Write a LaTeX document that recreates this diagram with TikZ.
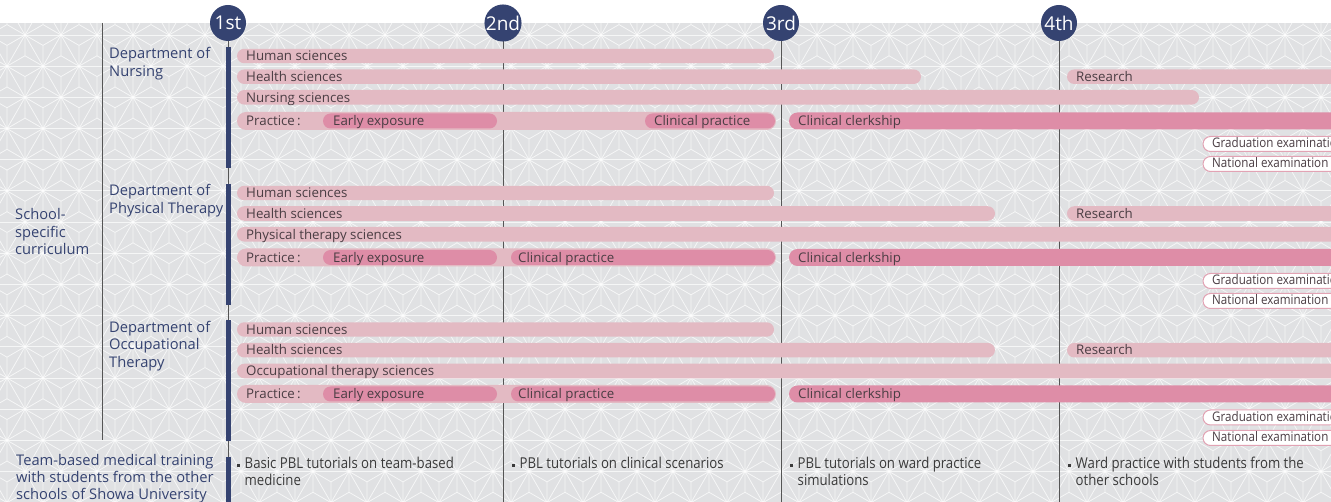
\documentclass[tikz,border=0pt]{standalone}
\usepackage{fontspec}
\setmainfont{Open Sans}
\newfontfamily\condfont[FakeStretch=0.88]{Open Sans}
\definecolor{bgc}{HTML}{E0E1E3}
\definecolor{lpink}{HTML}{E3BAC3}
\definecolor{dpink}{HTML}{DE8DA7}
\definecolor{navyc}{HTML}{354371}
\definecolor{bartextc}{HTML}{4A3D43}
\definecolor{bottomc}{HTML}{3A3A3A}
\definecolor{vlinec}{HTML}{555555}
\definecolor{exborder}{HTML}{E2A3B4}
\newcommand\pillbar[5]{\fill[#5] ({#1},{#3-#4}) [rounded corners=#4pt] rectangle ({#2},{#3+#4});}
\newcommand\exampill[1]{\filldraw[fill=white,draw=exborder,line width=1pt] (1203,{#1-7.5}) [rounded corners=7.5pt] rectangle (1345,{#1+7.5});}
\begin{document}
\begin{tikzpicture}[x=1pt,y=-1pt,
  pat/.style={draw=white,draw opacity=0.7,line width=0.8pt},
  bartxt/.style={anchor=west,inner sep=0pt,font=\fontsize{13.3}{15}\selectfont,text=bartextc,text height=9pt,text depth=2.5pt,yshift=-1.5pt},
  extxt/.style={anchor=west,inner sep=0pt,font=\condfont\fontsize{13.2}{15}\selectfont,text=bartextc,text height=8.5pt,text depth=2.5pt,yshift=-1pt},
  deptxt/.style={anchor=north west,inner sep=0pt,align=left,font=\fontsize{14.7}{17.3}\selectfont,text=navyc},
  bottxt/.style={anchor=north west,inner sep=0pt,align=left,font=\condfont\fontsize{15}{17}\selectfont,text=bottomc},
  yearc/.style={circle,fill=navyc,minimum size=36pt,inner sep=0pt,text=white,font=\fontsize{19}{19}\selectfont},
  vline/.style={draw=vlinec,line width=1pt},
  navyseg/.style={draw=navyc,line width=5pt}]
\useasboundingbox (0,0) rectangle (1331,502);
\begin{scope}
\clip (0,23) rectangle (1331,502);
\fill[bgc] (0,23) rectangle (1331,502);
\foreach \r in {0,...,16} { \draw[pat] (0,{3.8231+31.1769*\r}) -- (1331,{3.8231+31.1769*\r}); }
\foreach \i in {-10,...,38} { \draw[pat] ({25+36*\i-20.207},0) -- ({25+36*\i+280.01},520); }
\foreach \i in {-1,...,46} { \draw[pat] ({25+36*\i+20.207},0) -- ({25+36*\i-280.01},520); }
\draw[pat] \foreach \r in {0,...,16} { \foreach \i in {-1,...,37} {
  ({25+36*\i+18*mod(\r+1,2)-18},{3.8231+31.1769*\r-10.392}) -- ++(36,20.785)
  ({25+36*\i+18*mod(\r+1,2)+18},{3.8231+31.1769*\r-10.392}) -- ++(-36,20.785)
  ({25+36*\i+18*mod(\r+1,2)},{3.8231+31.1769*\r-20.785}) -- ++(0,41.57) } };
% vertical lines
\coordinate (t0) at (102,23); \coordinate (b0) at (102,440);
\draw[vline] (t0) -- (b0);
\coordinate (b1) at (228,502); \coordinate (b2) at (503,502); \coordinate (b3) at (781,502); \coordinate (b4) at (1059,502);
\coordinate (t1) at (228,41); \coordinate (t2) at (503,41); \coordinate (t3) at (781,41); \coordinate (t4) at (1059,41);
\draw[vline] (t1) -- (b1); \draw[vline] (t2) -- (b2); \draw[vline] (t3) -- (b3); \draw[vline] (t4) -- (b4);
\coordinate (s1a) at (228,47); \coordinate (s1b) at (228,168);
\coordinate (s2a) at (228,184); \coordinate (s2b) at (228,305);
\coordinate (s3a) at (228,320); \coordinate (s3b) at (228,441);
\coordinate (s4a) at (228,457); \coordinate (s4b) at (228,505);
\draw[navyseg] (s1a) -- (s1b); \draw[navyseg] (s2a) -- (s2b); \draw[navyseg] (s3a) -- (s3b); \draw[navyseg] (s4a) -- (s4b);
% ===== Nursing =====
\pillbar{237}{774}{56}{7.2}{lpink}
\pillbar{237}{921}{76.7}{7.3}{lpink}
\pillbar{1067}{1350}{76.7}{7.3}{lpink}
\pillbar{237}{1199}{97.3}{7.3}{lpink}
\pillbar{237}{776}{121}{9}{lpink}
\pillbar{323}{497}{121}{7.5}{dpink}
\pillbar{645}{775}{121}{7.5}{dpink}
\pillbar{789}{1350}{121}{8.5}{dpink}
\exampill{144}
\exampill{164}
\node[bartxt] (nh) at (246,56) {Human sciences};
\node[bartxt] (nhe) at (246,76.7) {Health sciences};
\node[bartxt] (nr) at (1076,76.7) {Research};
\node[bartxt] (nn) at (246,97.3) {Nursing sciences};
\node[bartxt] (np) at (246,121) {Practice\,:};
\node[bartxt] (ne) at (333,121) {Early exposure};
\node[bartxt] (nc) at (654,121) {Clinical practice};
\node[bartxt] (nk) at (798,121) {Clinical clerkship};
\node[extxt] (ng) at (1212,144) {Graduation examination};
\node[extxt] (nx) at (1212,164) {National examination};
% ===== Physical therapy =====
\pillbar{237}{774}{193}{7.2}{lpink}
\pillbar{237}{995}{213.5}{7.3}{lpink}
\pillbar{1067}{1350}{213.5}{7.3}{lpink}
\pillbar{237}{1350}{234.3}{7.3}{lpink}
\pillbar{237}{776}{257.5}{9}{lpink}
\pillbar{323}{497}{257.5}{7.5}{dpink}
\pillbar{511}{775}{257.5}{7.5}{dpink}
\pillbar{789}{1350}{257.5}{8.5}{dpink}
\exampill{281}
\exampill{301}
\node[bartxt] (ph) at (246,193) {Human sciences};
\node[bartxt] (phe) at (246,213.5) {Health sciences};
\node[bartxt] (pr) at (1076,213.5) {Research};
\node[bartxt] (pn) at (246,234.3) {Physical therapy sciences};
\node[bartxt] (pp) at (246,257.5) {Practice\,:};
\node[bartxt] (pe) at (333,257.5) {Early exposure};
\node[bartxt] (pc) at (518,257.5) {Clinical practice};
\node[bartxt] (pk) at (798,257.5) {Clinical clerkship};
\node[extxt] (pg) at (1212,281) {Graduation examination};
\node[extxt] (px) at (1212,301) {National examination};
% ===== Occupational therapy =====
\pillbar{237}{774}{329.5}{7.2}{lpink}
\pillbar{237}{995}{350.2}{7.3}{lpink}
\pillbar{1067}{1350}{350.2}{7.3}{lpink}
\pillbar{237}{1350}{371}{7.3}{lpink}
\pillbar{237}{776}{394}{9}{lpink}
\pillbar{323}{497}{394}{7.5}{dpink}
\pillbar{511}{775}{394}{7.5}{dpink}
\pillbar{789}{1350}{394}{8.5}{dpink}
\exampill{417.5}
\exampill{438}
\node[bartxt] (oh) at (246,329.5) {Human sciences};
\node[bartxt] (ohe) at (246,350.2) {Health sciences};
\node[bartxt] (or) at (1076,350.2) {Research};
\node[bartxt] (on) at (246,371) {Occupational therapy sciences};
\node[bartxt] (op) at (246,394) {Practice\,:};
\node[bartxt] (oe) at (333,394) {Early exposure};
\node[bartxt] (oc) at (518,394) {Clinical practice};
\node[bartxt] (ok) at (798,394) {Clinical clerkship};
\node[extxt] (og) at (1212,417.5) {Graduation examination};
\node[extxt] (ox) at (1212,438) {National examination};
% ===== bottom row =====
\fill[bottomc] (237,464) rectangle (240,467);
\fill[bottomc] (512,464) rectangle (515,467);
\fill[bottomc] (790,464) rectangle (793,467);
\fill[bottomc] (1068,464) rectangle (1071,467);
\node[bottxt] (w1) at (244.5,457) {Basic PBL tutorials on team-based\\medicine};
\node[bottxt] (w2) at (519.5,457) {PBL tutorials on clinical scenarios};
\node[bottxt] (w3) at (797.5,457) {PBL tutorials on ward practice\\simulations};
\node[bottxt] (w4) at (1075.5,457) {Ward practice with students from the\\other schools};
\end{scope}
% ===== labels =====
\node[deptxt] (dn) at (109,47.5) {Department of\\Nursing};
\node[deptxt] (dp) at (109,184.5) {Department of\\Physical Therapy};
\node[deptxt] (do) at (109,321) {Department of\\Occupational\\Therapy};
\node[deptxt] (sc) at (15,208.5) {School-\\specific\\curriculum};
\node[deptxt,font=\fontsize{14.7}{16.6}\selectfont] (tb) at (16,454.5) {Team-based medical training\\with students from the other\\schools of Showa University};
\node[yearc] (y1) at (228,23) {1st};
\node[yearc] (y2) at (503,23) {2nd};
\node[yearc] (y3) at (781,23) {3rd};
\node[yearc] (y4) at (1059,23) {4th};
\end{tikzpicture}
\end{document}
